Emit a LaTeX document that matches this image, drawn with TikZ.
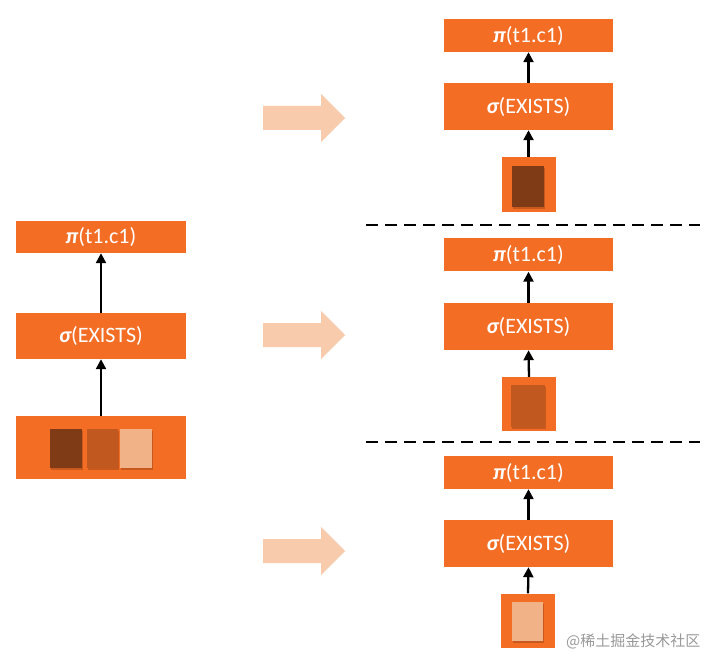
\documentclass[tikz,border=0pt]{standalone}
\usepackage{fontspec}
\setmainfont{Carlito}
\newfontfamily\cjkfont{Noto Sans CJK SC}
\usetikzlibrary{arrows.meta}
\definecolor{op}{HTML}{F46D25}
\definecolor{cdark}{HTML}{7E3B15}
\definecolor{cmed}{HTML}{C1581F}
\definecolor{clight}{HTML}{F1B287}
\definecolor{bigarr}{HTML}{F8CBAD}
\tikzset{
  opbox/.style={fill=op, draw=none, inner sep=0pt, text=white, font=\fontsize{22}{22}\selectfont},
  cell/.style={draw=none, inner sep=0pt},
  flow/.style={draw=black, line width=2.3pt, -{Triangle[length=10pt,width=10pt]}},
  sep/.style={line width=2.4pt, dash pattern=on 12pt off 7pt},
  big/.style={fill=bigarr, draw=none},
  shadowed/.style={preaction={fill=black, opacity=0.18, transform canvas={shift={(1.2pt,-2pt)}}}}
}
\newcommand{\pitext}{{\bfseries\itshape π}(t1.c1)}
\newcommand{\sigtext}{{\bfseries\itshape σ}(EXISTS)}
\newcommand{\bigarrow}[1]{\fill[big] (263,#1-12) -- (321,#1-12) -- (321,#1-24) -- (345,#1) -- (321,#1+24) -- (321,#1+12) -- (263,#1+12) -- cycle;}
\begin{document}
\begin{tikzpicture}[x=1pt,y=-1pt]
\useasboundingbox (0,0) rectangle (720,668);
% left stack
\node[opbox, minimum width=170pt, minimum height=32pt] (lp) at (101,237) {\pitext};
\node[opbox, minimum width=170pt, minimum height=46pt] (ls) at (101,336) {\sigtext};
\node[opbox, minimum width=170pt, minimum height=63pt] (lt) at (101,447.5) {};
\node[cell, shadowed, fill=cdark, minimum width=32pt, minimum height=39pt] (l1) at (66,448.5) {};
\node[cell, shadowed, fill=cmed, minimum width=31pt, minimum height=39pt] (l2) at (102.5,448.5) {};
\node[cell, shadowed, fill=clight, minimum width=32pt, minimum height=39pt] (l3) at (136,448.5) {};
\draw[flow] (lt.north) -- (ls.south);
\draw[flow] (ls.north) -- (lp.south);
% big arrows
\bigarrow{118}
\bigarrow{335}
\bigarrow{551}
% top right
\node[opbox, minimum width=169pt, minimum height=33pt] (ap) at (528.5,35.5) {\pitext};
\node[opbox, minimum width=169pt, minimum height=47pt] (as) at (528.5,106.5) {\sigtext};
\node[opbox, minimum width=54pt, minimum height=55pt] (at) at (528.5,184.5) {};
\node[cell, shadowed, fill=cdark, minimum width=32pt, minimum height=41pt] (a1) at (528,186.5) {};
\draw[flow] (at.north) -- (as.south);
\draw[flow] (as.north) -- (ap.south);
% separator
\draw[sep] (366,225) -- (700,225);
% middle right
\node[opbox, minimum width=169pt, minimum height=33pt] (bp) at (528.5,255) {\pitext};
\node[opbox, minimum width=169pt, minimum height=47pt] (bs) at (528.5,326.5) {\sigtext};
\node[opbox, minimum width=54pt, minimum height=54pt] (bt) at (529,404) {};
\node[cell, shadowed, fill=cmed, minimum width=34pt, minimum height=42pt] (b1) at (528,406) {};
\draw[flow] (bt.north) -- (bs.south);
\draw[flow] (bs.north) -- (bp.south);
% separator
\draw[sep] (366,442) -- (700,442);
% bottom right
\node[opbox, minimum width=169pt, minimum height=33pt] (cp) at (528.5,472.5) {\pitext};
\node[opbox, minimum width=169pt, minimum height=47pt] (cs) at (528.5,543.5) {\sigtext};
\node[opbox, minimum width=54pt, minimum height=54pt] (ct) at (528,620.5) {};
\node[cell, shadowed, fill=clight, minimum width=31pt, minimum height=39pt] (c1) at (527.5,621.5) {};
\draw[flow] (ct.north) -- (cs.south);
\draw[flow] (cs.north) -- (cp.south);
% watermark
\node[anchor=west, inner sep=0pt, text=black!40, font=\cjkfont\fontsize{15}{15}\selectfont] (wm) at (566,641) {@稀土掘金技术社区};
\end{tikzpicture}
\end{document}
